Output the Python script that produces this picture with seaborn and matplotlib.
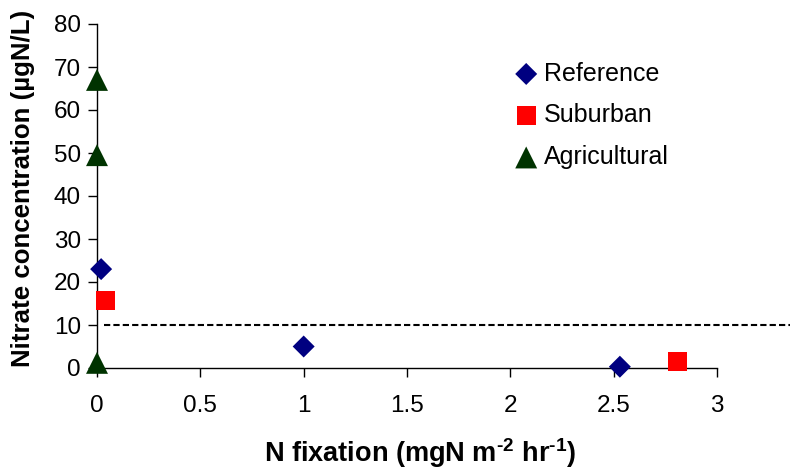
import matplotlib
matplotlib.use("Agg")
import matplotlib.pyplot as plt
import seaborn as sns
import pandas as pd

# Data
ref_x = [0.02, 1.0, 2.53]
ref_y = [23.0, 5.0, 0.3]
sub_x = [0.04, 2.81]
sub_y = [15.8, 1.5]
agr_x = [0.0, 0.0, 0.0]
agr_y = [67.0, 49.5, 1.2]
threshold = 10
x_ticks = [0, 0.5, 1, 1.5, 2, 2.5, 3]
x_tick_labels = ["0", "0.5", "1", "1.5", "2", "2.5", "3"]
y_ticks = [0, 10, 20, 30, 40, 50, 60, 70, 80]

df = pd.concat([
    pd.DataFrame({"x": ref_x, "y": ref_y, "group": "Reference"}),
    pd.DataFrame({"x": sub_x, "y": sub_y, "group": "Suburban"}),
    pd.DataFrame({"x": agr_x, "y": agr_y, "group": "Agricultural"}),
])

sns.set_theme(style="ticks")
plt.rcParams["font.family"] = ["Liberation Sans", "DejaVu Sans"]
plt.rcParams["mathtext.fontset"] = "custom"
plt.rcParams["mathtext.bf"] = "Liberation Sans:bold"
plt.rcParams["mathtext.rm"] = "Liberation Sans:bold"
plt.rcParams["text.color"] = "black"
plt.rcParams["axes.labelcolor"] = "black"

fig = plt.figure(figsize=(7.91, 4.71), dpi=100)
ax = fig.add_axes([97 / 791, 1 - 368 / 471, 620 / 791, (368 - 24) / 471])

styles = {
    "Reference": dict(marker="D", s=11.2 ** 2, color="#000080"),
    "Suburban": dict(marker="s", s=13.7 ** 2, color="#FF0000"),
    "Agricultural": dict(marker="^", s=15.8 ** 2, color="#003300"),
}
for g, st in styles.items():
    sns.scatterplot(data=df[df["group"] == g], x="x", y="y", ax=ax,
                    marker=st["marker"], s=st["s"], color=st["color"],
                    edgecolor="none", linewidth=0, label=g, clip_on=False,
                    zorder=5)

ax.axhline(threshold, xmin=0.011, xmax=1.118, color="black",
           linestyle=(0, (3, 1.5)), linewidth=1.5, clip_on=False, zorder=3)

ax.set_xlim(0, 3)
ax.set_ylim(0, 80)
ax.set_xticks(x_ticks)
ax.set_xticklabels(x_tick_labels)
ax.set_yticks(y_ticks)
ax.tick_params(axis="both", labelsize=17.5, colors="black", width=1,
               length=6.5, direction="out")
ax.tick_params(axis="x", pad=13)
ax.tick_params(axis="y", pad=5)
for side in ["top", "right"]:
    ax.spines[side].set_visible(False)
for side in ["left", "bottom"]:
    ax.spines[side].set_linewidth(1)
    ax.spines[side].set_color("black")

ax.set_xlabel(r"N fixation (mgN m$^{\text{-2}}$ hr$^{\text{-1}}$)",
              fontsize=19.5, fontweight="bold", color="black")
ax.xaxis.set_label_coords(0.521, -0.197)
ax.set_ylabel("Nitrate concentration (µgN/L)", fontsize=18.6,
              fontweight="bold", color="black")
ax.yaxis.set_label_coords(-0.10, 0.523)

leg = ax.legend(loc="upper left", bbox_to_anchor=(0.66, 0.92), frameon=False,
                fontsize=18, handlelength=0.8, handletextpad=0.3,
                labelspacing=0.71, borderaxespad=0)
for t in leg.get_texts():
    t.set_color("black")

fig.savefig("out.png", dpi=100)
